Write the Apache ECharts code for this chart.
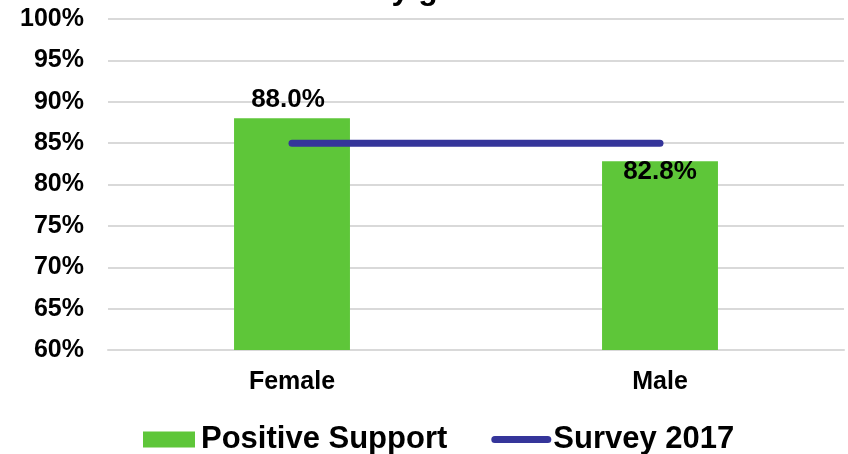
<!DOCTYPE html>
<html>
<head>
<meta charset="utf-8">
<script src="https://cdn.jsdelivr.net/npm/echarts@6/dist/echarts.min.js"></script>
<style>
  html, body { margin: 0; padding: 0; background: #ffffff; }
  #chart { width: 848px; height: 454px; }
</style>
</head>
<body>
<div id="chart"></div>
<script>
// Positive support by gender, with the 2017 survey benchmark
const categories = ['Female', 'Male'];
const positiveSupport = [88.0, 82.8];
const survey2017 = [85, 85];
const yTicks = { min: 60, max: 100, step: 5 };

const FONT = 'Liberation Sans, Arial, sans-serif';
const GREEN = '#5ec639';
const NAVY = '#35359a';

const chart = echarts.init(document.getElementById('chart'), null, { renderer: 'canvas' });

chart.setOption({
  backgroundColor: '#ffffff',
  animation: false,
  title: {
    text: 'by gender',
    left: 372,
    top: -26,
    padding: 0,
    textStyle: { fontFamily: FONT, fontWeight: 'bold', fontSize: 32, color: '#000' }
  },
  legend: {
    left: 138,
    top: 419,
    itemGap: 44,
    itemWidth: 60,
    itemHeight: 16,
    symbolKeepAspect: true,
    textStyle: { fontFamily: FONT, fontWeight: 'bold', fontSize: 31, color: '#000', padding: [0, 0, 0, -3] },
    data: [
      { name: 'Positive Support', icon: 'path://M0,0H52V16H0Z', itemStyle: { color: GREEN } },
      {
        name: 'Survey 2017',
        icon: 'path://M3.5,0H56.5A3.5,3.5,0,0,1,56.5,7H3.5A3.5,3.5,0,0,1,3.5,0Z',
        itemStyle: { color: NAVY }
      }
    ]
  },
  grid: { left: 108, right: 4, top: 19, bottom: 104 },
  xAxis: {
    type: 'category',
    data: categories,
    axisLine: { lineStyle: { color: '#d9d9d9', width: 2 } },
    axisTick: { show: false },
    axisLabel: { fontFamily: FONT, fontWeight: 'bold', fontSize: 25, color: '#000', margin: 20 }
  },
  yAxis: {
    type: 'value',
    min: yTicks.min,
    max: yTicks.max,
    interval: yTicks.step,
    axisLine: { show: false },
    axisTick: { show: false },
    splitLine: { lineStyle: { color: '#d9d9d9', width: 2 } },
    axisLabel: {
      fontFamily: FONT, fontWeight: 'bold', fontSize: 25, color: '#000', margin: 24,
      formatter: v => v + '%'
    }
  },
  series: [
    {
      name: 'Positive Support',
      type: 'bar',
      barWidth: '31.5%',
      itemStyle: { color: GREEN },
      data: positiveSupport.map((v, i) => ({
        value: v,
        label: i === 0
          ? { show: true, position: 'top', distance: 5, offset: [-4, 0] }
          : { show: true, position: 'insideTop', distance: -3 }
      })),
      label: {
        fontFamily: FONT, fontWeight: 'bold', fontSize: 26, color: '#000',
        formatter: p => p.value.toFixed(1) + '%'
      },
      z: 2
    },
    {
      name: 'Survey 2017',
      type: 'line',
      data: survey2017,
      symbol: 'none',
      lineStyle: { color: NAVY, width: 7, cap: 'round' },
      itemStyle: { color: NAVY },
      z: 3
    }
  ]
});
</script>
</body>
</html>
